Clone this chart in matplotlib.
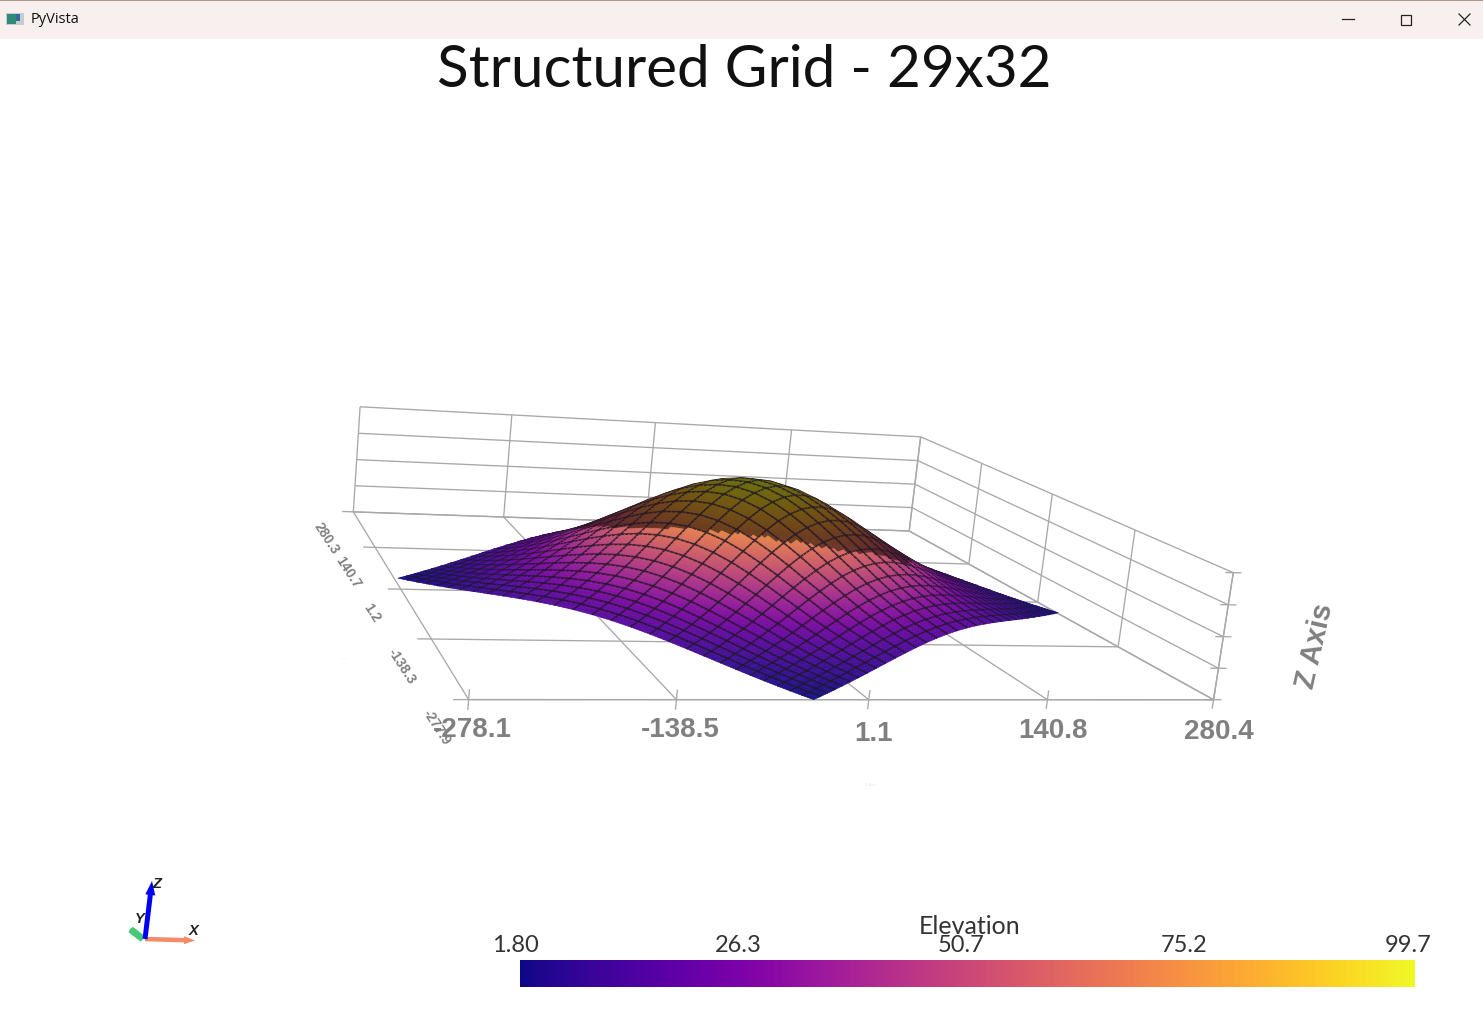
import numpy as np
import matplotlib
matplotlib.use('Agg')
import matplotlib.pyplot as plt
from matplotlib.collections import PolyCollection, LineCollection
from matplotlib.patches import FancyArrow, Rectangle

# axis ticks of the bounding box
x_ticks = [-278.1, -138.5, 1.1, 140.8, 280.4]
y_ticks = [-277.9, -138.3, 1.2, 140.7, 280.3]
z_ticks = [1.80, 26.3, 50.7, 75.2, 99.7]
x_labels = ['-278.1', '-138.5', '1.1', '140.8', '280.4']
y_labels = ['-277.9', '-138.3', '1.2', '140.7', '280.3']
bar_labels = ['1.80', '26.3', '50.7', '75.2', '99.7']

# surface corners in data units (left, front, back)
corner_left = [-275.0, 36.0]
corner_front = [-40.0, -277.9]
corner_back = [47.0, 280.3]

# position of the 29 and 32 grid lines along the sides (denser at the ends)
grid_u = [0.0, 0.025, 0.051, 0.077, 0.106, 0.136, 0.168, 0.202, 0.239, 0.278,
          0.320, 0.363, 0.408, 0.454, 0.5, 0.546, 0.592, 0.637, 0.680, 0.722,
          0.761, 0.798, 0.832, 0.864, 0.894, 0.923, 0.949, 0.975, 1.0]
grid_v = [0.0, 0.023, 0.046, 0.070, 0.094, 0.121, 0.149, 0.179, 0.211, 0.244,
          0.280, 0.317, 0.356, 0.396, 0.437, 0.479, 0.521, 0.563, 0.604, 0.644,
          0.683, 0.720, 0.756, 0.789, 0.821, 0.851, 0.879, 0.906, 0.930, 0.954,
          0.977, 1.0]

# relative height along those grid lines
profile_u = [0.183, 0.216, 0.253, 0.297, 0.347, 0.405, 0.472, 0.548, 0.629, 0.716,
             0.802, 0.880, 0.944, 0.985, 1.000, 0.985, 0.944, 0.880, 0.802, 0.716,
             0.629, 0.548, 0.472, 0.405, 0.347, 0.297, 0.253, 0.216, 0.183]
profile_v = [0.183, 0.212, 0.246, 0.284, 0.327, 0.376, 0.433, 0.496, 0.566, 0.641,
             0.719, 0.796, 0.868, 0.930, 0.973, 0.997, 0.997, 0.973, 0.930, 0.868,
             0.796, 0.719, 0.641, 0.566, 0.496, 0.433, 0.376, 0.327, 0.284, 0.246,
             0.212, 0.183]

# where the lit side of the dome stops on screen
ridge_px = [575, 593, 633, 683, 733, 780, 813, 847, 880, 910]
ridge_py = [530, 527, 528, 528, 533, 540, 545, 552, 555, 566]

# box points and where they land in the window, used to fit the camera
xt, yt, zt = x_ticks, y_ticks, z_ticks
cal_data = [(xt[0], yt[0], zt[0]), (xt[1], yt[0], zt[0]), (xt[2], yt[0], zt[0]),
            (xt[3], yt[0], zt[0]), (xt[4], yt[0], zt[0]),
            (xt[0], yt[4], zt[0]), (xt[1], yt[4], zt[0]),
            (xt[4], yt[4], zt[0]), (xt[0], yt[4], zt[4]), (xt[1], yt[4], zt[4]),
            (xt[2], yt[4], zt[4]), (xt[3], yt[4], zt[4]), (xt[4], yt[4], zt[4]),
            (xt[4], yt[0], zt[4]), (xt[0], yt[1], zt[0]), (xt[0], yt[2], zt[0]),
            (xt[0], yt[3], zt[0]), (xt[4], yt[1], zt[0]), (xt[4], yt[2], zt[0]),
            (xt[4], yt[3], zt[0]), (xt[4], yt[1], zt[4]), (xt[4], yt[2], zt[4]),
            (xt[4], yt[3], zt[4])]
cal_px = [(468, 700), (677, 700), (868, 700), (1048, 700), (1213, 700),
          (353, 512), (504, 517), (909, 531), (360, 407), (512, 415),
          (655, 423), (792, 430), (920, 437), (1233, 573), (432, 638),
          (401, 589), (375, 547), (1118, 647), (1038, 602), (969, 564),
          (1135, 529), (1053, 494), (982, 463)]


def fit_camera(data, px):
    """Least squares 3x4 camera from point matches."""
    d = np.array(data, dtype=float) / [300, 300, 100]
    p = np.array(px, dtype=float) / 1000
    rows = []
    for (a, b, c), (u, v) in zip(d, p):
        rows.append([a, b, c, 1, 0, 0, 0, 0, -u * a, -u * b, -u * c, -u])
        rows.append([0, 0, 0, 0, a, b, c, 1, -v * a, -v * b, -v * c, -v])
    return np.linalg.svd(np.array(rows))[2][-1].reshape(3, 4)


cam = fit_camera(cal_data, cal_px)


def project(x, y, z):
    """Data coordinates to window pixels, plus distance from the camera."""
    x, y, z = np.broadcast_arrays(x, y, z)
    pts = np.stack([x / 300, y / 300, z / 100, np.ones(x.shape)], axis=-1)
    h = pts @ cam.T
    return h[..., 0] / h[..., 2] * 1000, h[..., 1] / h[..., 2] * 1000, np.abs(h[..., 2])


def segs(a, b):
    """Segments between two lists of data points."""
    a = np.array(a, dtype=float)
    b = np.array(b, dtype=float)
    ax_, ay_, _ = project(a[:, 0], a[:, 1], a[:, 2])
    bx_, by_, _ = project(b[:, 0], b[:, 1], b[:, 2])
    return [[(p, q), (r, s)] for p, q, r, s in zip(ax_, ay_, bx_, by_)]


fig = plt.figure(figsize=(14.83, 10.15), dpi=100)
ax = fig.add_axes([0, 0, 1, 1])

# window title bar
ax.add_patch(Rectangle((0, 0), 1483, 39, fc='#f8f0ee', ec='none'))
ax.add_patch(Rectangle((0, 0), 1483, 1, fc='#a89a90', ec='none'))
ax.add_patch(Rectangle((6, 13), 18, 12, fc='#c4ccd0', ec='none'))
ax.add_patch(Rectangle((7, 14), 9, 10, fc='#2f8a78', ec='none'))
ax.add_patch(Rectangle((16, 14), 4, 7, fc='#356a9a', ec='none'))
ax.text(31, 19.5, 'PyVista', fontsize=10.5, family='Open Sans', va='center', color='#111111')
ax.plot([1342, 1354], [19, 19], color='#222222', lw=0.9)
ax.add_patch(Rectangle((1401, 14.5), 10, 10, fc='none', ec='#222222', lw=0.9))
ax.plot([1459, 1470], [14, 25], color='#222222', lw=0.9)
ax.plot([1459, 1470], [25, 14], color='#222222', lw=0.9)

ax.text(744, 70, 'Structured Grid - 29x32', fontsize=42, family='Lato',
        ha='center', va='center', color='#111111')

# bounding box grid
x0, x1 = x_ticks[0], x_ticks[-1]
y0, y1 = y_ticks[0], y_ticks[-1]
z0, z1 = z_ticks[0], z_ticks[-1]
grid = []
for x in x_ticks:
    grid += segs([(x, y0, z0)], [(x, y1, z0)])
    grid += segs([(x, y1, z0)], [(x, y1, z1)])
    grid += segs([(x, y0, z0 - 7)], [(x, y0, z0 + 7)])
for y in y_ticks:
    grid += segs([(x0, y, z0)], [(x1, y, z0)])
    grid += segs([(x1, y, z0)], [(x1, y, z1)])
    grid += segs([(x0 - 10, y, z0)], [(x0, y, z0)])
for z in z_ticks:
    grid += segs([(x0, y1, z)], [(x1, y1, z)])
    grid += segs([(x1, y1, z)], [(x1, y0, z)])
    grid += segs([(x1 - 7, y0, z)], [(x1 + 7, y0, z)])
grid += segs([(x0, y0, z0)], [(x1, y0, z0)])
grid += segs([(x1, y0, z0)], [(x1, y0, z1)])
ax.add_collection(LineCollection(grid, colors='#a8a8a8', linewidths=0.95, zorder=1))

# surface heights on the 29x32 grid
pu = np.array(profile_u)
pv = np.array(profile_v)
rel = np.outer(pu, pv)
rel = (rel - rel.min()) / (rel.max() - rel.min())
elev = z0 + (z1 - z0) * rel

# each cell is split for smooth colour, as the renderer does
sub = 4
nu, nv = elev.shape
fu = np.linspace(0, nu - 1, (nu - 1) * sub + 1)
fv = np.linspace(0, nv - 1, (nv - 1) * sub + 1)
elev_f = np.array([np.interp(fv, np.arange(nv), row) for row in elev])
elev_f = np.array([np.interp(fu, np.arange(nu), col) for col in elev_f.T]).T
uu, vv = np.meshgrid(np.interp(fu, np.arange(nu), grid_u),
                     np.interp(fv, np.arange(nv), grid_v), indexing='ij')
cl, cf, cb = np.array(corner_left), np.array(corner_front), np.array(corner_back)
xs = cl[0] + uu * (cf[0] - cl[0]) + vv * (cb[0] - cl[0])
ys = cl[1] + uu * (cf[1] - cl[1]) + vv * (cb[1] - cl[1])
px, py, dist = project(xs, ys, elev_f)

polys, face, edge, widths, depth = [], [], [], [], []
cmap = plt.get_cmap('plasma')
for i in range(px.shape[0] - 1):
    for j in range(px.shape[1] - 1):
        q = np.array([[px[i, j], py[i, j]], [px[i + 1, j], py[i + 1, j]],
                      [px[i + 1, j + 1], py[i + 1, j + 1]], [px[i, j + 1], py[i, j + 1]]])
        e = elev_f[i:i + 2, j:j + 2].mean()
        col = np.array(cmap((e - z0) / (z1 - z0)))
        cx, cy = q.mean(axis=0)
        if ridge_px[0] < cx < ridge_px[-1] and cy < np.interp(cx, ridge_px, ridge_py):
            col[:3] = col[:3] * 0.45
        else:
            col[:3] = col[:3] * 0.88 + 0.05
        polys.append(q)
        face.append(col)
        edge.append(col)
        widths.append(0.4)
        depth.append(dist[i:i + 2, j:j + 2].mean())

# mesh lines go in the same collection so the dome hides the far ones
# the outer boundary has no line in the original
bias = 0.004 * (dist.max() - dist.min())
line_col = (0.13, 0.09, 0.15, 0.82)
none_col = (0, 0, 0, 0)
for i in range(sub, px.shape[0] - 1, sub):
    for j in range(px.shape[1] - 1):
        polys.append(np.array([[px[i, j], py[i, j]], [px[i, j + 1], py[i, j + 1]]]))
        face.append(none_col)
        edge.append(line_col)
        widths.append(1.25)
        depth.append(dist[i, j:j + 2].mean() - bias)
for j in range(sub, px.shape[1] - 1, sub):
    for i in range(px.shape[0] - 1):
        polys.append(np.array([[px[i, j], py[i, j]], [px[i + 1, j], py[i + 1, j]]]))
        face.append(none_col)
        edge.append(line_col)
        widths.append(1.25)
        depth.append(dist[i:i + 2, j].mean() - bias)

order = np.argsort(depth)[::-1]
surf = PolyCollection([polys[k] for k in order], facecolors=[face[k] for k in order],
                      edgecolors=[edge[k] for k in order],
                      linewidths=[widths[k] for k in order], zorder=2)
ax.add_collection(surf)

# tick labels
x_label_pos = [(472, 730), (680, 730), (873, 734), (1053, 731), (1219, 732)]
for (lx, ly), lab in zip(x_label_pos, x_labels):
    ax.text(lx, ly, lab, fontsize=20, family='Liberation Sans', weight='bold', color='#808080',
            ha='center', va='center', zorder=3)
y_label_pos = [(437, 727), (402, 666), (372, 613), (348, 572), (326, 538)]
for (lx, ly), lab in zip(y_label_pos, y_labels):
    ax.text(lx, ly, lab, fontsize=10, family='Liberation Sans', weight='bold', color='#808080',
            rotation=-57, ha='center', va='center', zorder=3)
ax.text(1315, 646, 'Z Axis', fontsize=21, family='Liberation Sans', weight='bold',
        color='#808080', rotation=77, ha='center', va='center', zorder=3)
ax.text(870, 785, 'X Axis', fontsize=2.5, color='#e4e4e4', ha='center', va='center')
ax.text(343, 658, 'Y Axis', fontsize=1.5, color='#e0e0e0', ha='center', va='center')

# scalar bar
bar = np.linspace(z0, z1, 256).reshape(1, -1)
ax.imshow(bar, cmap='plasma', vmin=z0, vmax=z1, extent=(520, 1415, 987, 960),
          aspect='auto', interpolation='nearest', zorder=2)
for bx, lab in zip([515, 738, 961, 1184, 1408], bar_labels):
    ax.text(bx, 945, lab, fontsize=17, family='Lato', color='#333333',
            ha='center', va='center', zorder=3)
ax.text(970, 926, 'Elevation', fontsize=18, family='Lato', color='#333333',
        ha='center', va='center', zorder=3)

# orientation triad
ax.add_patch(FancyArrow(143, 939, -13, -10, width=7, head_width=7, head_length=1,
                        length_includes_head=True, color='#45c878', ec='none', zorder=3))
ax.add_patch(FancyArrow(145, 939, 50, 1.5, width=4.5, head_width=8, head_length=11,
                        length_includes_head=True, color='#f58a66', ec='none', zorder=3))
ax.add_patch(FancyArrow(145, 939, 7, -58, width=5, head_width=10, head_length=14,
                        length_includes_head=True, color='#0000f0', ec='none', zorder=4))
for tx, ty, lab in [(194, 931, 'X'), (140, 919, 'Y'), (157, 884, 'Z')]:
    ax.text(tx, ty, lab, fontsize=10.5, family='Liberation Sans', weight='bold',
            style='italic', color='#222222', ha='center', va='center', zorder=5)

ax.set_xlim(0, 1483)
ax.set_ylim(1015, 0)
ax.axis('off')
fig.savefig('out.png', dpi=100)
